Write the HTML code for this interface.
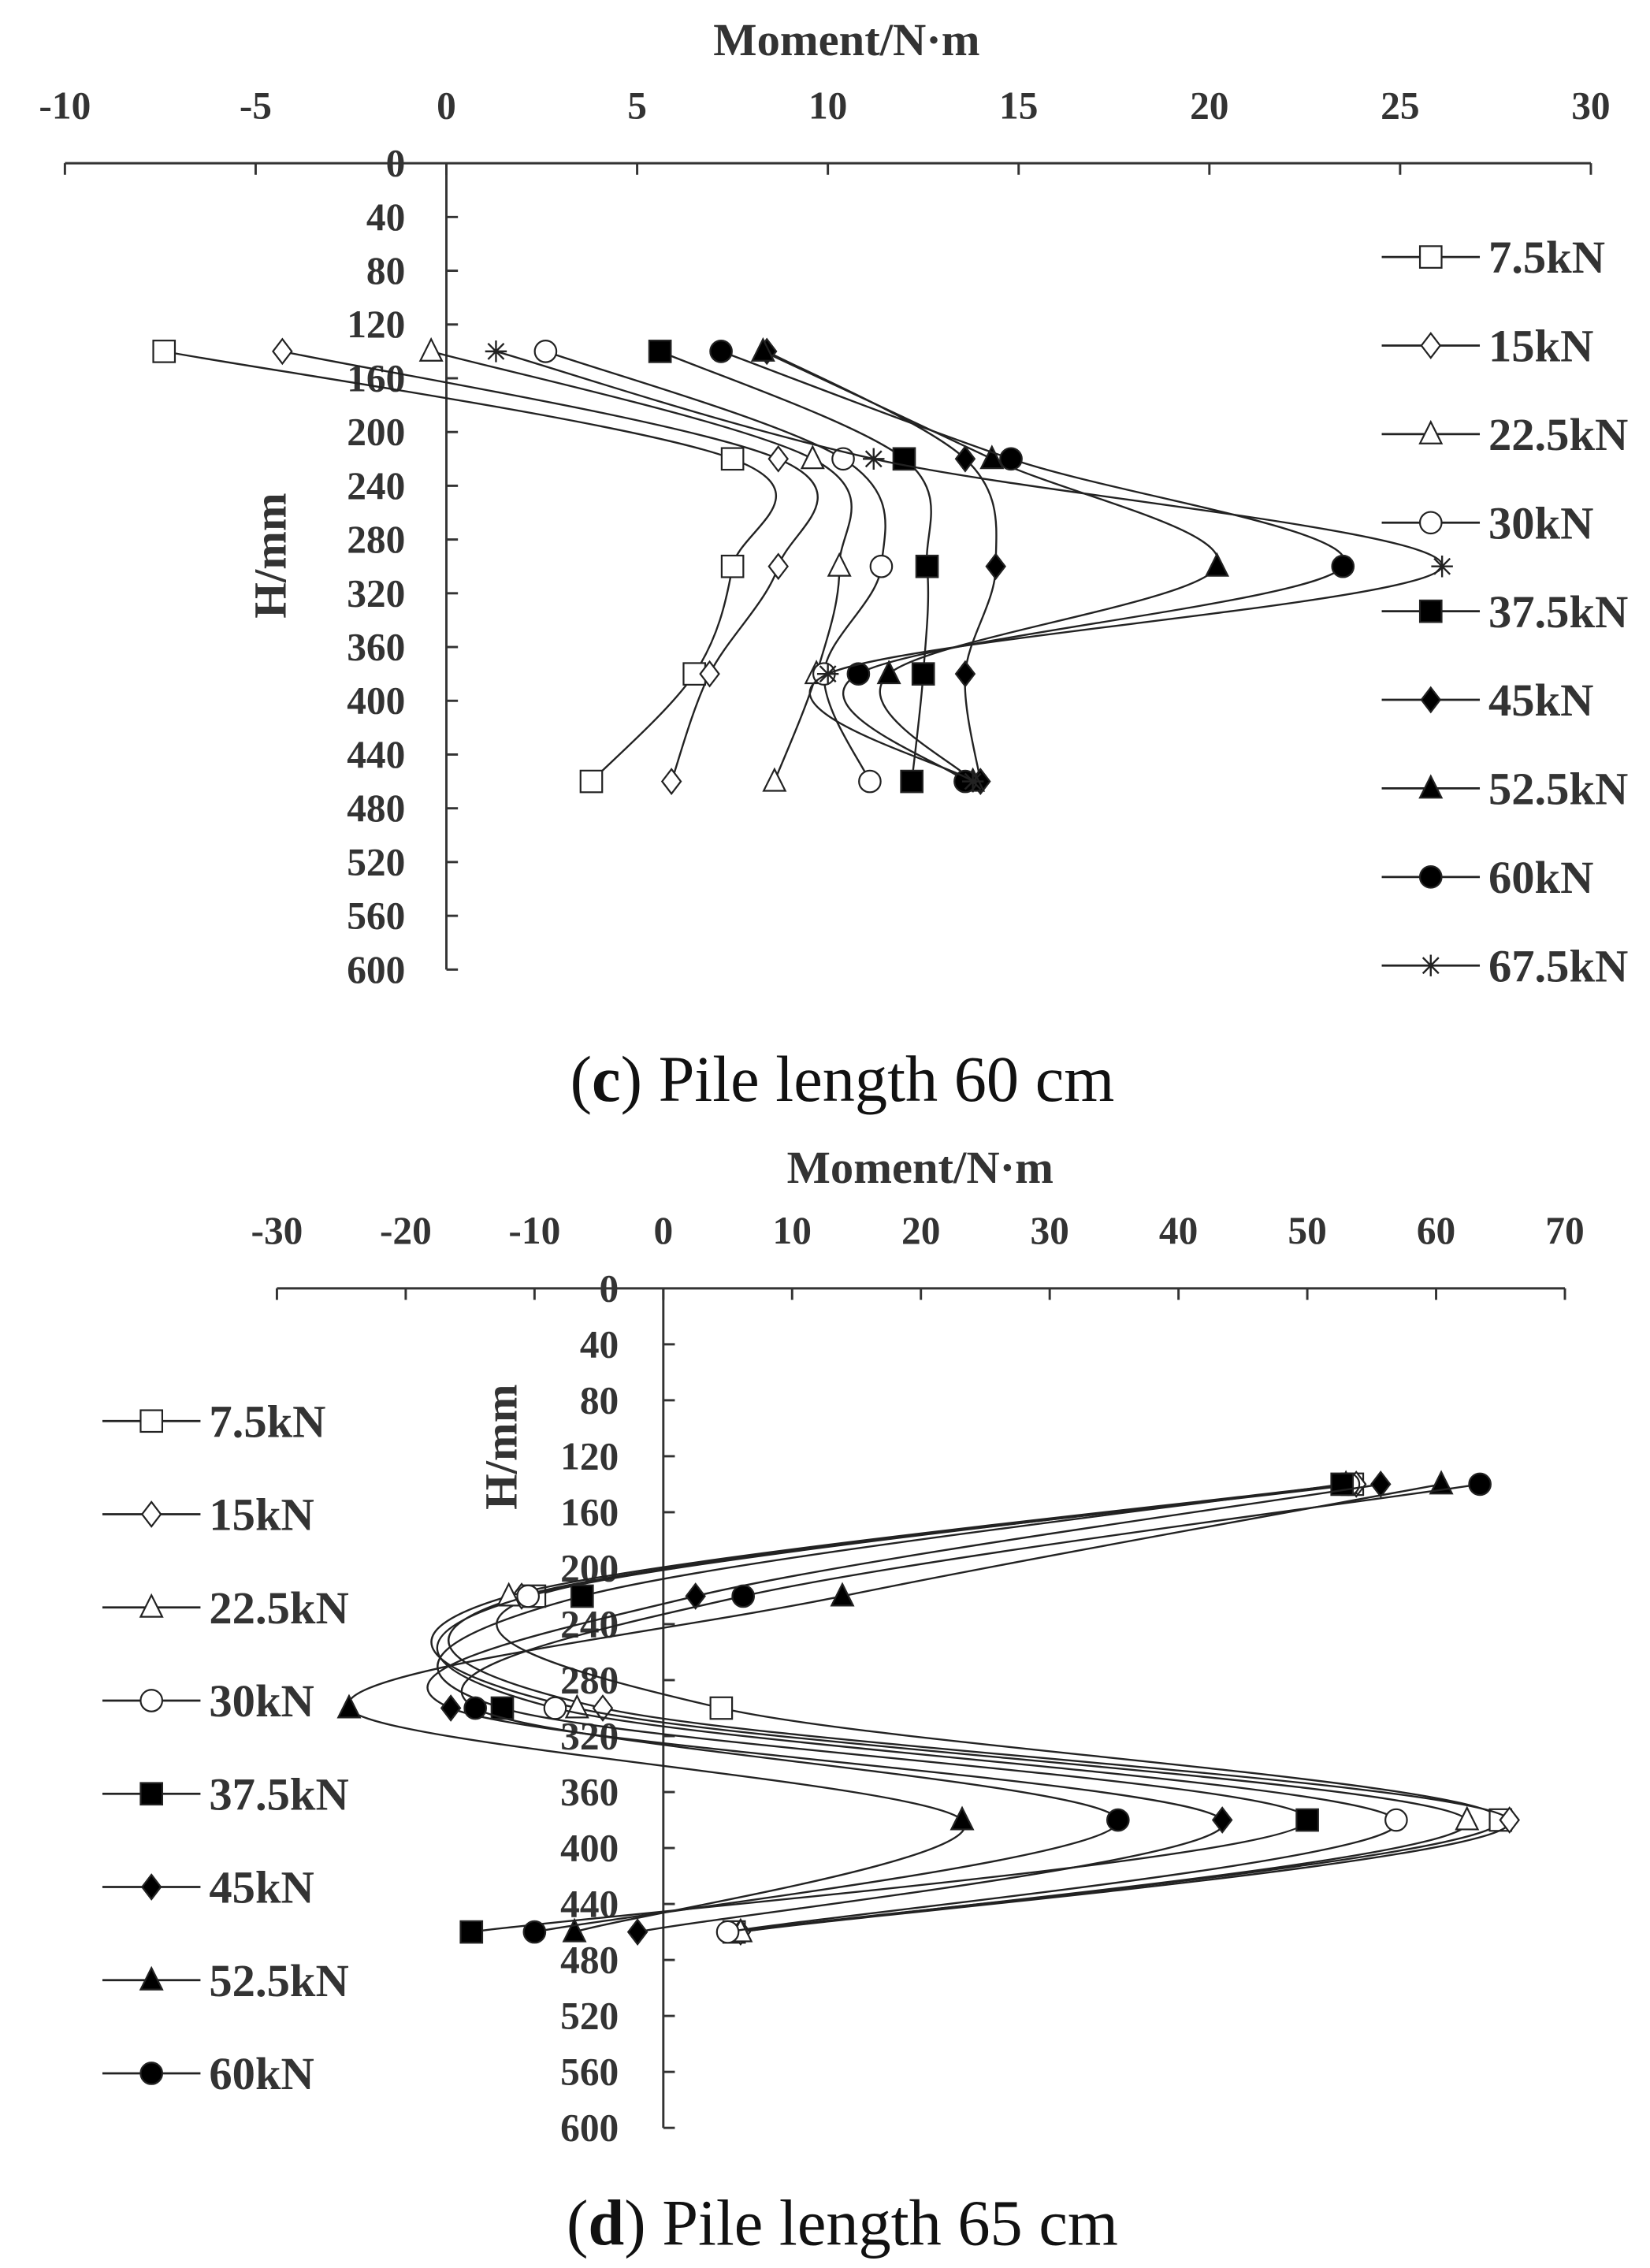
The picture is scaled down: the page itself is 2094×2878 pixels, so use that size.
<!DOCTYPE html>
<html><head><meta charset="utf-8"><style>
html,body{margin:0;padding:0;background:#fff;}
svg{display:block;}
text{font-family:"Liberation Serif",serif;fill:#333;}
.tk{font-weight:bold;font-size:27px;}
.tt{font-weight:bold;font-size:32px;}
.lg{font-weight:bold;font-size:32px;}
.cap{font-size:45px;fill:#111;}
</style></head><body>
<svg id="root" width="2094" height="2878" viewBox="0 0 1144 1572">
<g id="chartC"></g>
<g id="chartD"></g>
<text class="cap" x="584" y="763" text-anchor="middle">(<tspan font-weight="bold">c</tspan>) Pile length 60 cm</text>
<text class="cap" x="584" y="1556" text-anchor="middle">(<tspan font-weight="bold">d</tspan>) Pile length 65 cm</text>
</svg>
<script>
const depths = [140, 220, 300, 380, 460];
const yTicks = [0,40,80,120,160,200,240,280,320,360,400,440,480,520,560,600];
const seriesC = ['7.5kN','15kN','22.5kN','30kN','37.5kN','45kN','52.5kN','60kN','67.5kN'];
const c75 = [-7.4, 7.5, 7.5, 6.5, 3.8];
const c15 = [-4.3, 8.7, 8.7, 6.9, 5.9];
const c225 = [-0.4, 9.6, 10.3, 9.7, 8.6];
const c30 = [2.6, 10.4, 11.4, 9.9, 11.1];
const c375 = [5.6, 12.0, 12.6, 12.5, 12.2];
const c45 = [8.4, 13.6, 14.4, 13.6, 14.0];
const c525 = [8.3, 14.3, 20.2, 11.6, 13.8];
const c60 = [7.2, 14.8, 23.5, 10.8, 13.6];
const c675 = [1.3, 11.2, 26.1, 10.0, 13.8];
const xTicksC = [-10,-5,0,5,10,15,20,25,30];
const seriesD = ['7.5kN','15kN','22.5kN','30kN','37.5kN','45kN','52.5kN','60kN'];
const d75 = [53.5, -10.0, 4.5, 65.0, 5.5];
const d15 = [53.8, -11.0, -4.7, 65.7, 6.0];
const d225 = [53.0, -12.0, -6.7, 62.4, 6.0];
const d30 = [53.2, -10.5, -8.4, 56.9, 5.0];
const d375 = [52.7, -6.3, -12.5, 50.0, -14.9];
const d45 = [55.7, 2.5, -16.5, 43.4, -2.0];
const d525 = [60.4, 13.9, -24.4, 23.2, -6.9];
const d60 = [63.4, 6.2, -14.6, 35.3, -10.0];
const xTicksD = [-30,-20,-10,0,10,20,30,40,50,60,70];
const markers = ['osq','odi','otr','oci','fsq','fdi','ftr','fci','ast'];
const NS='http://www.w3.org/2000/svg';
function mk(tag,attrs,parent){const e=document.createElementNS(NS,tag);for(const k in attrs)e.setAttribute(k,attrs[k]);parent.appendChild(e);return e;}
function marker(g,type,x,y){
  const s=7.5, filled=type[0]==='f', f=filled?'#000':'#fff', st='#222';
  let e;
  const t=type.slice(1);
  if(type==='ast'){e=mk('path',{d:`M${x-s} ${y}H${x+s}M${x} ${y-s}V${y+s}M${x-5.5} ${y-5.5}L${x+5.5} ${y+5.5}M${x-5.5} ${y+5.5}L${x+5.5} ${y-5.5}`,stroke:st,'stroke-width':1.3,fill:'none'},g);}
  else if(t==='sq') e=mk('rect',{x:x-s,y:y-s,width:2*s,height:2*s,fill:f,stroke:st,'stroke-width':1.2},g);
  else if(t==='di') e=mk('path',{d:`M${x} ${y-s-1}L${x+s-1} ${y}L${x} ${y+s+1}L${x-s+1} ${y}Z`,fill:f,stroke:st,'stroke-width':1.2},g);
  else if(t==='tr') e=mk('path',{d:`M${x} ${y-s-1}L${x+s} ${y+s-1}L${x-s} ${y+s-1}Z`,fill:f,stroke:st,'stroke-width':1.2},g);
  else e=mk('circle',{cx:x,cy:y,r:s,fill:f,stroke:st,'stroke-width':1.2},g);
  
  
}
function smooth(pts){
  let d=`M${pts[0][0]} ${pts[0][1]}`;
  for(let i=0;i<pts.length-1;i++){
    const p0=pts[i-1]||pts[i],p1=pts[i],p2=pts[i+1],p3=pts[i+2]||p2,k=1/6;
    d+=`C${p1[0]+(p2[0]-p0[0])*k} ${p1[1]+(p2[1]-p0[1])*k} ${p2[0]-(p3[0]-p1[0])*k} ${p2[1]-(p3[1]-p1[1])*k} ${p2[0]} ${p2[1]}`;
  }
  return d;
}
function chart(g,cfg){
  const X=v=>cfg.x0+(v-cfg.xmin)/(cfg.xmax-cfg.xmin)*(cfg.x1-cfg.x0);
  const Y=v=>cfg.y0+v/600*(cfg.y1-cfg.y0);
  const ax=mk('g',{stroke:'#333','stroke-width':1.6,fill:'none'},g);
  
  
  mk('line',{x1:X(cfg.xmin),x2:X(cfg.xmax),y1:Y(0),y2:Y(0)},ax);
  mk('line',{x1:X(0),x2:X(0),y1:Y(0),y2:Y(600)},ax);
  cfg.xt.forEach(v=>{
    mk('line',{x1:X(v),x2:X(v),y1:Y(0),y2:Y(0)+8},ax);
    const t=mk('text',{x:X(v),y:cfg.xly,'text-anchor':'middle',class:'tk'},g);t.textContent=v;
    
    
  });
  yTicks.forEach(v=>{
    if(v>0)mk('line',{x1:X(0),x2:X(0)+8,y1:Y(v),y2:Y(v)},ax);
    const t=mk('text',{x:cfg.ylx,y:Y(v)+9,'text-anchor':'end',class:'tk'},g);t.textContent=v;
    
    
  });
  const xt=mk('text',{x:cfg.xtx,y:cfg.xty,'text-anchor':'middle',class:'tt'},g);xt.textContent='Moment/N·m';
  
  
  const yt=mk('text',{x:0,y:0,'text-anchor':'middle',class:'tt',transform:`translate(${cfg.ytx},${cfg.yty}) rotate(-90)`},g);yt.textContent='H/mm';
  
  
  cfg.data.forEach((vals,i)=>{
    const sg=mk('g',{},g);
    
    
    const pts=vals.map((v,j)=>[X(v),Y(depths[j])]);
    const p=mk('path',{d:smooth(pts),fill:'none',stroke:'#222','stroke-width':1.3},sg);
    
    
    pts.forEach(q=>marker(sg,markers[i],q[0],q[1]));
    const lg=mk('g',{},g);
    
    
    const ly=cfg.ly0+i*cfg.ldy;
    mk('line',{x1:cfg.lx,x2:cfg.lx+68,y1:ly,y2:ly,stroke:'#222','stroke-width':1.5},lg);
    marker(lg,markers[i],cfg.lx+34,ly);
    const lt=mk('text',{x:cfg.lx+74,y:ly+11,class:'lg'},lg);lt.textContent=cfg.names[i];
  });
}
chart(document.getElementById('chartC'),{xmin:-10,xmax:30,x0:45,x1:1103,y0:113,y1:672,xt:xTicksC,xly:82,ylx:281,xtx:587,xty:38,ytx:198,yty:385,
  data:[c75,c15,c225,c30,c375,c45,c525,c60,c675],names:seriesC,lx:958,ly0:178,ldy:61.4});
chart(document.getElementById('chartD'),{xmin:-30,xmax:70,x0:192,x1:1085,y0:893,y1:1475,xt:xTicksD,xly:862,ylx:429,xtx:638,xty:820,ytx:358,yty:1003,
  data:[d75,d15,d225,d30,d375,d45,d525,d60],names:seriesD,lx:71,ly0:985,ldy:64.6});
</script>
</body></html>
